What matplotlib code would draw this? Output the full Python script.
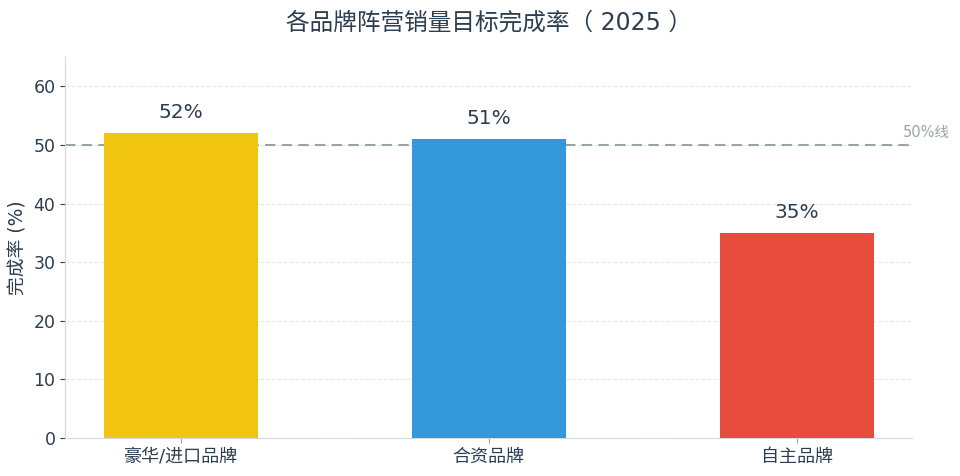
import matplotlib
matplotlib.use("Agg")
import matplotlib.pyplot as plt
import numpy as np

plt.rcParams['font.family'] = ['DejaVu Sans', 'Noto Sans CJK SC']

categories = ["豪华/进口品牌", "合资品牌", "自主品牌"]
rates = [52, 51, 35]
colors = ["#F1C40F", "#3498DB", "#E74C3C"]
ref_line = 50

text_c = "#2C3E50"

fig = plt.figure(figsize=(9.6, 4.76), dpi=100)
ax = fig.add_axes([0.068, 0.080, 0.882, 0.800])

x = np.arange(len(categories))
bars = ax.bar(x, rates, width=0.5, color=colors, zorder=3)
for b, v in zip(bars, rates):
    ax.text(b.get_x() + b.get_width() / 2, v + 1.9, f"{v}%", ha="center", va="bottom",
            fontsize=14.5, color=text_c, zorder=4)

ax.axhline(ref_line, color="#95A5A6", linestyle="--", linewidth=1.5, dashes=(5, 3), zorder=2)
ax.text(2.345, ref_line + 0.8, "50%线", color="#95A5A6", fontsize=10.5,
        ha="left", va="bottom", clip_on=False)

ax.set_xlim(-0.375, 2.375)
ax.set_ylim(0, 65)
ax.set_yticks(np.arange(0, 61, 10))
ax.set_xticks(x)
ax.set_xticklabels(categories)
ax.tick_params(axis="y", labelsize=12.5, colors=text_c, labelcolor=text_c)
ax.tick_params(axis="x", labelsize=13, colors="#95A5A6", labelcolor=text_c)
ax.set_ylabel("完成率 (%)", fontsize=13.5, color=text_c)
ax.grid(axis="y", linestyle="--", color="#E5E8EB", linewidth=0.8, zorder=0)
for s in ["top", "right"]:
    ax.spines[s].set_visible(False)
for s in ["left", "bottom"]:
    ax.spines[s].set_color("#D5D8DC")

ax.set_title("各品牌阵营销量目标完成率（ 2025 ）", fontsize=17, color=text_c, pad=20)

fig.savefig("out.png", dpi=100)
